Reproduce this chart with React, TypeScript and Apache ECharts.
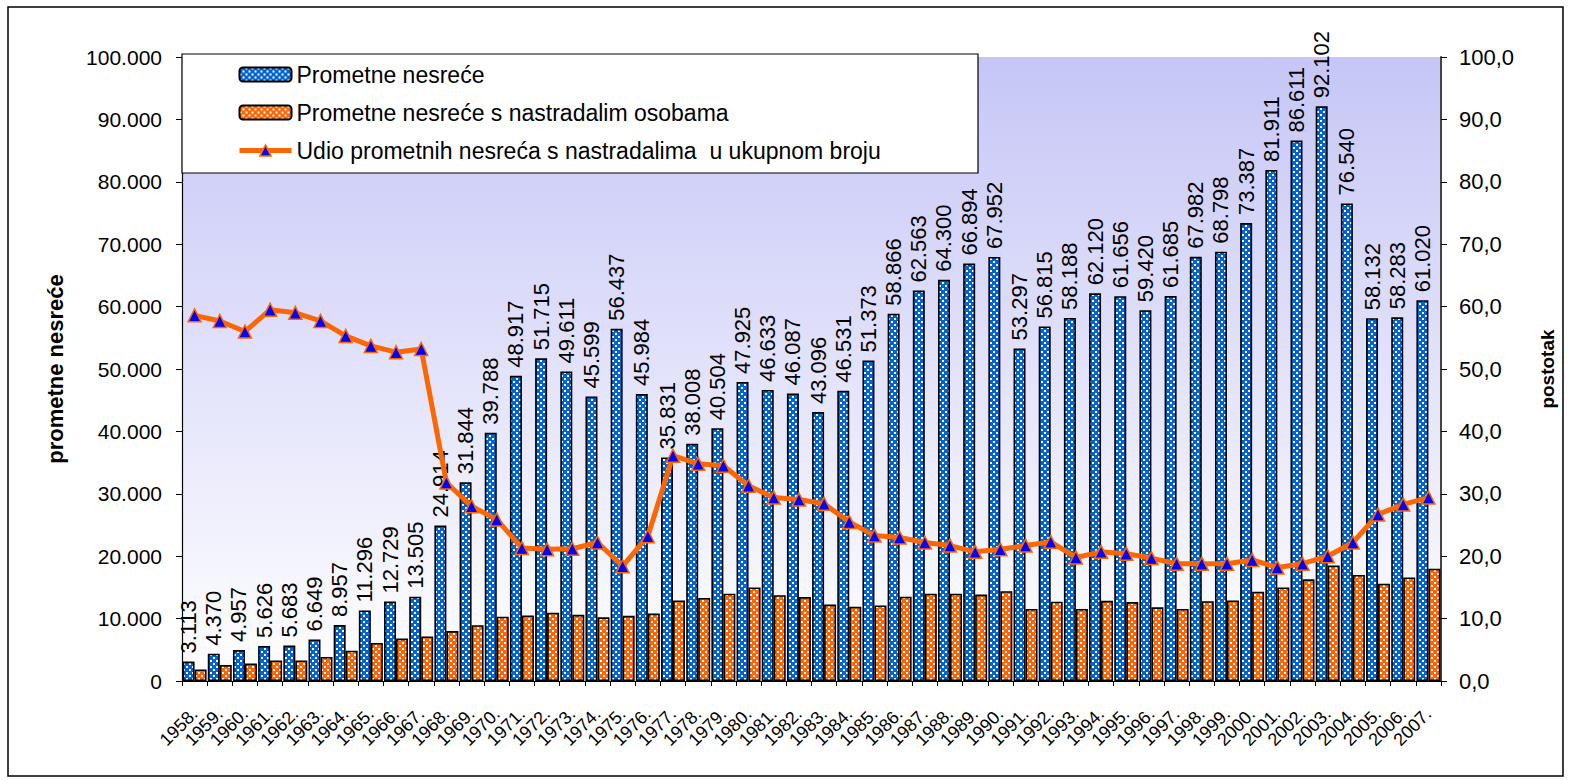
import React, { useEffect, useRef } from 'react';
import * as echarts from 'echarts';

const years = [
  '1958', '1959', '1960', '1961', '1962', '1963', '1964', '1965', '1966', '1967',
  '1968', '1969', '1970', '1971', '1972', '1973', '1974', '1975', '1976', '1977',
  '1978', '1979', '1980', '1981', '1982', '1983', '1984', '1985', '1986', '1987',
  '1988', '1989', '1990', '1991', '1992', '1993', '1994', '1995', '1996', '1997',
  '1998', '1999', '2000', '2001', '2002', '2003', '2004', '2005', '2006', '2007',
];

const accidents = [
  3113, 4370, 4957, 5626, 5683, 6649, 8957, 11296, 12729, 13505,
  24914, 31844, 39788, 48917, 51715, 49611, 45599, 56437, 45984, 35831,
  38008, 40504, 47925, 46633, 46087, 43096, 46531, 51373, 58866, 62563,
  64300, 66894, 67952, 53297, 56815, 58188, 62120, 61656, 59420, 61685,
  67982, 68798, 73387, 81911, 86611, 92102, 76540, 58132, 58283, 61020,
];

const injuryAccidents = [
  1850, 2550, 2800, 3300, 3300, 3850, 4850, 6100, 6800, 7150,
  8000, 8950, 10300, 10500, 10950, 10600, 10200, 10450, 10800, 12900,
  13300, 14000, 15000, 13750, 13450, 12250, 11900, 12100, 13500, 14000,
  14000, 13850, 14400, 11550, 12700, 11550, 12850, 12650, 11800, 11550,
  12800, 12900, 14300, 15000, 16300, 18500, 17000, 15600, 16600, 18000,
];

const sharePct = [
  58.6, 57.7, 56.0, 59.5, 59.0, 57.7, 55.3, 53.7, 52.7, 53.2,
  31.8, 28.0, 25.9, 21.3, 21.1, 21.2, 22.2, 18.4, 23.2, 36.1,
  34.8, 34.5, 31.3, 29.4, 29.1, 28.4, 25.5, 23.3, 23.0, 22.2,
  21.7, 20.7, 21.1, 21.7, 22.3, 19.8, 20.7, 20.4, 19.7, 18.8,
  18.8, 18.8, 19.4, 18.2, 18.8, 20.0, 22.2, 26.7, 28.3, 29.4,
];

const seriesNames = [
  'Prometne nesreće',
  'Prometne nesreće s nastradalim osobama',
  'Udio prometnih nesreća s nastradalima  u ukupnom broju',
];

const leftAxisTitle = 'prometne nesreće';
const rightAxisTitle = 'postotak';

const FONT = '"Liberation Sans", Arial, Helvetica, sans-serif';

function fmtThousands(n: number): string {
  return String(Math.round(n)).replace(/\B(?=(\d{3})+(?!\d))/g, '.');
}

function makePattern(color: string) {
  const c = document.createElement('canvas');
  c.width = 6;
  c.height = 6;
  const ctx = c.getContext('2d')!;
  ctx.fillStyle = color;
  ctx.fillRect(0, 0, 6, 6);
  ctx.fillStyle = '#ffffff';
  ctx.fillRect(0, 0, 2, 2);
  ctx.fillRect(3, 3, 2, 2);
  return { image: c, repeat: 'repeat' };
}

export default function App() {
  const ref = useRef<HTMLDivElement>(null);

  useEffect(() => {
    if (!ref.current) return;
    const chart = echarts.init(ref.current, null, { renderer: 'svg' });
    const bluePattern = makePattern('#0064d2');
    const orangePattern = makePattern('#ff6400');

    const option: any = {
      animation: false,
      backgroundColor: '#ffffff',
      textStyle: { fontFamily: FONT },
      grid: {
        left: 182,
        right: 132,
        top: 57,
        bottom: 99,
        show: true,
        borderWidth: 0,
        backgroundColor: new echarts.graphic.LinearGradient(0, 0, 0, 1, [
          { offset: 0, color: '#c6c6f7' },
          { offset: 1, color: '#ffffff' },
        ]),
      },
      graphic: [
        {
          type: 'rect',
          z: 0,
          shape: { x: 8, y: 7, width: 1555, height: 769 },
          style: { fill: 'none', stroke: '#000000', lineWidth: 1.5 },
        },
        {
          type: 'rect',
          z: 1,
          shape: { x: 182, y: 54, width: 796, height: 119 },
          style: { fill: '#ffffff', stroke: '#000000', lineWidth: 1.2 },
        },
      ],
      legend: {
        orient: 'vertical',
        left: 232,
        top: 56,
        itemWidth: 52,
        itemHeight: 14,
        itemGap: 11,
        z: 5,
        textStyle: { fontSize: 23, color: '#000000', fontFamily: FONT, lineHeight: 27 },
        data: [
          { name: seriesNames[0] },
          { name: seriesNames[1] },
          {
            name: seriesNames[2],
            lineStyle: { width: 5, color: '#ff6600' },
            itemStyle: { color: '#0000ff', borderColor: '#ff6600', borderWidth: 1.5 },
          },
        ],
      },
      xAxis: {
        type: 'category',
        data: years,
        axisLine: { lineStyle: { color: '#000000', width: 1.2 } },
        axisTick: { show: true, alignWithLabel: false, length: 5, lineStyle: { color: '#000000' } },
        axisLabel: {
          interval: 0,
          rotate: 45,
          margin: 30,
          fontSize: 18,
          color: '#000000',
          fontFamily: FONT,
          formatter: (v: string) => v + '.',
        },
        splitLine: { show: false },
      },
      yAxis: [
        {
          type: 'value',
          min: 0,
          max: 100000,
          interval: 10000,
          name: leftAxisTitle,
          nameLocation: 'middle',
          nameRotate: 90,
          nameGap: 116,
          nameTextStyle: { fontSize: 22, fontWeight: 'bold', color: '#000000', fontFamily: FONT },
          axisLine: { show: true, lineStyle: { color: '#000000', width: 1.2 } },
          axisTick: { show: true, length: 6, lineStyle: { color: '#000000' } },
          axisLabel: {
            fontSize: 21,
            color: '#000000',
            margin: 20,
            fontFamily: FONT,
            formatter: (v: number) => (v === 0 ? '0' : fmtThousands(v)),
          },
          splitLine: { show: false },
        },
        {
          type: 'value',
          min: 0,
          max: 100,
          interval: 10,
          position: 'right',
          name: rightAxisTitle,
          nameLocation: 'middle',
          nameRotate: 90,
          nameGap: 97,
          nameTextStyle: { fontSize: 19, fontWeight: 'bold', color: '#000000', fontFamily: FONT },
          axisLine: { show: true, lineStyle: { color: '#444444', width: 2 } },
          axisTick: { show: true, length: 6, lineStyle: { color: '#000000' } },
          axisLabel: {
            fontSize: 22,
            color: '#000000',
            margin: 18,
            fontFamily: FONT,
            formatter: (v: number) => v.toFixed(1).replace('.', ','),
          },
          splitLine: { show: false },
        },
      ],
      series: [
        {
          name: seriesNames[0],
          type: 'bar',
          yAxisIndex: 0,
          data: accidents,
          barWidth: 12,
          barGap: '0%',
          itemStyle: { color: bluePattern, borderColor: '#000000', borderWidth: 1.6 },
          label: {
            show: true,
            position: 'top',
            rotate: 90,
            align: 'left',
            verticalAlign: 'middle',
            distance: 8,
            fontSize: 22,
            color: '#000000',
            fontFamily: FONT,
            formatter: (p: any) => fmtThousands(p.value),
          },
          z: 2,
        },
        {
          name: seriesNames[1],
          type: 'bar',
          yAxisIndex: 0,
          data: injuryAccidents,
          barWidth: 12,
          barGap: '0%',
          itemStyle: { color: orangePattern, borderColor: '#000000', borderWidth: 1.6 },
          z: 2,
        },
        {
          name: seriesNames[2],
          type: 'line',
          yAxisIndex: 1,
          data: sharePct,
          symbol: 'triangle',
          symbolSize: 13,
          lineStyle: { color: '#ff6600', width: 5 },
          itemStyle: { color: '#0000ff', borderColor: '#ff6600', borderWidth: 1.5 },
          z: 10,
        },
      ],
    };

    chart.setOption(option);
    return () => {
      chart.dispose();
    };
  }, []);

  return (
    <div
      ref={ref}
      style={{ position: 'fixed', left: 0, top: 0, width: 1573, height: 780 }}
    />
  );
}
